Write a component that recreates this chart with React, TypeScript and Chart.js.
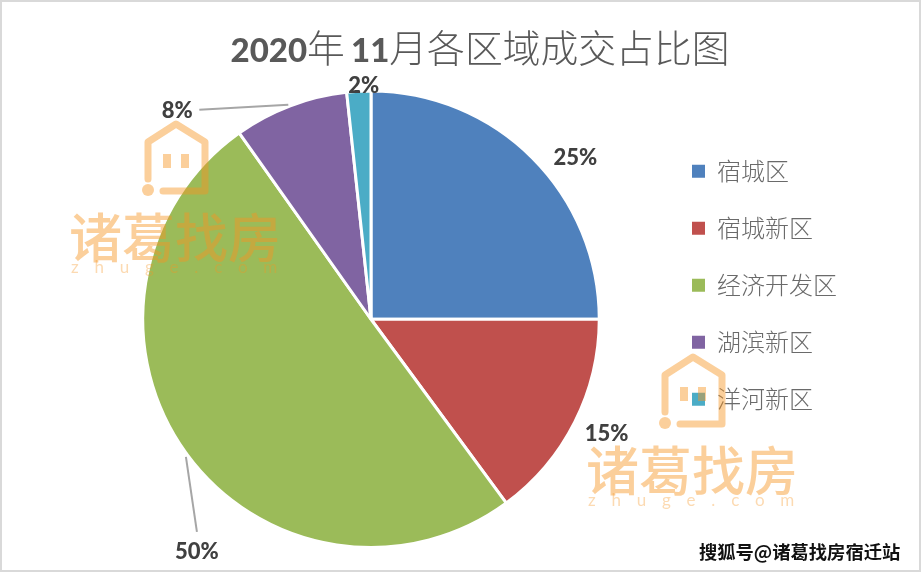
import { useEffect, useRef } from 'react';
import { Chart, registerables } from 'chart.js';

Chart.register(...registerables);

const regions = ['宿城区', '宿城新区', '经济开发区', '湖滨新区', '洋河新区'];
const shares = [25, 14.9, 50.3, 8.1, 1.7];
const sliceColors = ['#4F81BD', '#C0504D', '#9BBB59', '#8064A2', '#4BACC6'];

// label position relative to the middle of each slice's outer edge
const labelNudges = [[43, 0], [32, 12], [11, 99], [-113, 5], [5, -5]];
// slices whose label is joined to the pie by a thin line: [from x, from y, to x, to y] nudges
const leaderLines: Record<number, number[]> = {
  2: [0, 4, 11, 79],
  3: [-2, -1, -91, 4],
};

const titleRuns = [
  { text: '2020', font: '900 33px Lato' },
  { text: '年', font: '300 37.8px "Noto Sans CJK SC"' },
  { text: ' ', font: '24px Lato' },
  { text: '11', font: '900 33px Lato' },
  { text: '月各区域成交占比图', font: '300 37.8px "Noto Sans CJK SC"' },
];

const markFill = 'rgba(246, 148, 33, 0.45)';

const drawLogo = (ctx: CanvasRenderingContext2D, x: number, y: number) => {
  ctx.save();
  ctx.translate(x, y);
  ctx.strokeStyle = markFill;
  ctx.fillStyle = markFill;
  ctx.lineWidth = 7;
  ctx.lineCap = 'round';
  ctx.lineJoin = 'round';
  ctx.beginPath();
  ctx.moveTo(-28, 58);
  ctx.lineTo(-28, 21);
  ctx.lineTo(0, 3);
  ctx.lineTo(29, 21);
  ctx.lineTo(29, 70);
  ctx.lineTo(-13, 70);
  ctx.stroke();
  ctx.beginPath();
  ctx.arc(-28, 69, 6, 0, Math.PI * 2);
  ctx.fill();
  ctx.fillRect(-13, 33, 8, 14);
  ctx.fillRect(5, 33, 8, 14);
  ctx.textBaseline = 'alphabetic';
  ctx.textAlign = 'left';
  ctx.font = '500 53px "Noto Sans CJK SC"';
  ctx.fillText('诸葛找房', -107, 137);
  ctx.fillStyle = 'rgba(246, 148, 33, 0.35)';
  ctx.font = '17px Lato';
  (ctx as any).letterSpacing = '15.8px';
  ctx.fillText('zhuge.com', -105, 152);
  ctx.restore();
};

const sceneryPlugin = {
  id: 'scenery',
  afterLayout(chart: Chart) {
    // legend sits above the pie's vertical centre
    const legend = chart.legend as any;
    legend.top -= 34;
    legend.bottom -= 34;
  },
  beforeDraw(chart: Chart) {
    const { ctx, width, height } = chart;
    ctx.save();
    ctx.fillStyle = '#FFFFFF';
    ctx.fillRect(0, 0, width, height);
    ctx.strokeStyle = '#D9D9D9';
    ctx.lineWidth = 2;
    ctx.strokeRect(1, 1, width - 2, height - 2);
    ctx.restore();
  },
  afterDraw(chart: Chart) {
    const { ctx } = chart;
    const arcs = chart.getDatasetMeta(0).data as any[];
    ctx.save();

    // title
    ctx.fillStyle = '#595959';
    ctx.textBaseline = 'alphabetic';
    ctx.textAlign = 'left';
    let total = 0;
    titleRuns.forEach((run) => {
      ctx.font = run.font;
      total += ctx.measureText(run.text).width;
    });
    let cursor = 480 - total / 2;
    titleRuns.forEach((run) => {
      ctx.font = run.font;
      ctx.fillText(run.text, cursor, 62);
      cursor += ctx.measureText(run.text).width;
    });

    // percent labels
    ctx.font = '900 22px Lato';
    ctx.textAlign = 'center';
    ctx.textBaseline = 'middle';
    arcs.forEach((arc, i) => {
      const { x, y, startAngle, endAngle, outerRadius } = arc.getProps(
        ['x', 'y', 'startAngle', 'endAngle', 'outerRadius'],
        true,
      );
      const mid = (startAngle + endAngle) / 2;
      const ex = x + Math.cos(mid) * outerRadius;
      const ey = y + Math.sin(mid) * outerRadius;
      const line = leaderLines[i];
      if (line) {
        ctx.strokeStyle = '#A6A6A6';
        ctx.lineWidth = 2;
        ctx.beginPath();
        ctx.moveTo(ex + line[0], ey + line[1]);
        ctx.lineTo(ex + line[2], ey + line[3]);
        ctx.stroke();
      }
      ctx.fillStyle = '#404040';
      ctx.fillText(Math.round(shares[i]) + '%', ex + labelNudges[i][0], ey + labelNudges[i][1]);
    });

    // watermarks
    drawLogo(ctx, 176, 121);
    drawLogo(ctx, 693, 354);

    // source credit
    ctx.font = 'bold 18.3px "Noto Sans CJK SC"';
    ctx.textAlign = 'left';
    ctx.textBaseline = 'middle';
    ctx.fillStyle = '#111111';
    ctx.fillText('搜狐号@诸葛找房宿迁站', 699, 552);
    ctx.restore();
  },
};

const App = () => {
  const canvasRef = useRef<HTMLCanvasElement | null>(null);

  useEffect(() => {
    if (!canvasRef.current) return;
    document.body.style.margin = '0';

    const chart = new Chart(canvasRef.current, {
      type: 'pie',
      data: {
        labels: regions,
        datasets: [
          {
            data: shares,
            backgroundColor: sliceColors,
            borderColor: '#FFFFFF',
            borderWidth: 3,
          },
        ],
      },
      options: {
        responsive: false,
        animation: false,
        events: [],
        layout: { padding: { top: 89.5, bottom: 23, left: 83, right: 74 } },
        plugins: {
          tooltip: { enabled: false },
          title: { display: false },
          legend: {
            position: 'right',
            labels: {
              boxWidth: 13,
              boxHeight: 13,
              padding: 33,
              color: '#6A6A6A',
              font: { family: '"Noto Sans CJK SC"', size: 24, weight: '300', lineHeight: 1.2 },
              generateLabels: (c: Chart) =>
                (Chart.overrides.pie.plugins.legend.labels as any)
                  .generateLabels(c)
                  .map((item: any) => ({ ...item, lineWidth: 0 })),
            },
          },
        },
      },
      plugins: [sceneryPlugin],
    });

    return () => {
      chart.destroy();
    };
  }, []);

  return <canvas ref={canvasRef} width={921} height={572} style={{ display: 'block' }} />;
};

export default App;
